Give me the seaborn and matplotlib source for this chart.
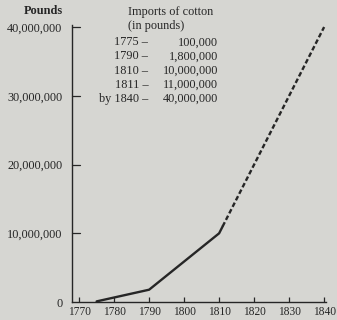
import matplotlib
matplotlib.use('Agg')
from matplotlib import pyplot as plt
import seaborn as sns
import pandas as pd

# данные: импорт хлопка (в фунтах)
years = [1775, 1790, 1810, 1811, 1840]
pounds = [100000, 1800000, 10000000, 11000000, 40000000]
year_labels = ['1775 –', '1790 –', '1810 –', '1811 –', 'by 1840 –']
x_ticks = [1770, 1780, 1790, 1800, 1810, 1820, 1830, 1840]
y_ticks = [0, 10000000, 20000000, 30000000, 40000000]

df = pd.DataFrame({'year': years, 'pounds': pounds})
solid = df[df['year'] <= 1811]
dashed = df[df['year'] >= 1811]

sns.set_style('ticks')
plt.rcParams['font.family'] = ['Liberation Serif', 'DejaVu Serif']
bg = '#d6d6d2'
ink = '#262626'

fig = plt.figure(figsize=(3.37, 3.2), dpi=100, facecolor=bg)
ax = fig.add_axes([0.214, 0.056, 0.753, 0.866])
ax.set_facecolor(bg)

sns.lineplot(data=solid, x='year', y='pounds', ax=ax, color=ink, linewidth=1.7)
sns.lineplot(data=dashed, x='year', y='pounds', ax=ax, color=ink, linewidth=1.7,
             linestyle=(0, (2.0, 1.1)))

ax.set_xlim(1768, 1840.5)
ax.set_ylim(0, 40300000)
ax.set_xticks(x_ticks)
ax.set_yticks(y_ticks)
ax.set_yticklabels(['0'] + [f'{v:,}' for v in y_ticks[1:]])
ax.tick_params(axis='x', direction='in', length=3.5, width=0.9, colors=ink, labelsize=8.3, pad=3)
ax.tick_params(axis='y', direction='out', length=0, colors=ink, labelsize=8.8, pad=7)
# короткие засечки вправо от оси y
for v in y_ticks[1:]:
    ax.plot([1768, 1770.3], [v, v], color=ink, lw=0.9, clip_on=False)
ax.set_xlabel('')
ax.set_ylabel('')
for s in ['top', 'right']:
    ax.spines[s].set_visible(False)
for s in ['left', 'bottom']:
    ax.spines[s].set_color(ink)
    ax.spines[s].set_linewidth(1.0)

fs = 8.8
fig.text(0.128, 0.966, 'Pounds', fontsize=fs, ha='center', va='center', color=ink,
         fontweight='bold')
fig.text(0.38, 0.962, 'Imports of cotton', fontsize=fs, ha='left', va='center', color=ink)
fig.text(0.38, 0.918, '(in pounds)', fontsize=fs, ha='left', va='center', color=ink)
for i, (lab, v) in enumerate(zip(year_labels, pounds)):
    yy = 0.868 - i * 0.0445
    fig.text(0.44, yy, lab, fontsize=fs, ha='right', va='center', color=ink)
    fig.text(0.648, yy, f'{v:,}', fontsize=fs, ha='right', va='center', color=ink)

fig.savefig('out.png', dpi=100, facecolor=bg)
